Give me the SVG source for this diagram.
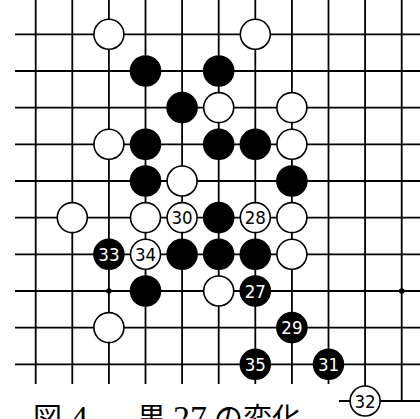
<svg xmlns="http://www.w3.org/2000/svg" width="420" height="419" viewBox="0 0 420 419">
<style>
.g line{stroke:#000;stroke-width:1.8}
.w{fill:#fff;stroke:#000;stroke-width:1.6}
.b{fill:#000;stroke:#000;stroke-width:1.6}
.n{font-family:"DejaVu Sans Condensed","Liberation Sans Narrow","Liberation Sans",sans-serif;font-size:18.5px;text-anchor:middle}
.nw{fill:#000}
.nb{fill:#fff}
.cap{font-family:"Liberation Serif","Noto Sans CJK JP",serif;font-size:29px;fill:#000}
.d{font-size:34px}
</style>
<rect width="420" height="419" fill="#fff"/>
<g id="connectors" class="g">
<line x1="15" y1="34.3" x2="420" y2="34.3"/>
<line x1="15" y1="71" x2="420" y2="71"/>
<line x1="15" y1="107.6" x2="420" y2="107.6"/>
<line x1="15" y1="144.3" x2="420" y2="144.3"/>
<line x1="15" y1="181" x2="420" y2="181"/>
<line x1="15" y1="217.6" x2="420" y2="217.6"/>
<line x1="15" y1="254.3" x2="420" y2="254.3"/>
<line x1="15" y1="291" x2="420" y2="291"/>
<line x1="15" y1="327.6" x2="420" y2="327.6"/>
<line x1="15" y1="364.3" x2="420" y2="364.3"/>
<line x1="339" y1="401" x2="420" y2="401"/>
<line x1="35.7" y1="0" x2="35.7" y2="384"/>
<line x1="72.3" y1="0" x2="72.3" y2="384"/>
<line x1="108.9" y1="0" x2="108.9" y2="384"/>
<line x1="145.5" y1="0" x2="145.5" y2="384"/>
<line x1="182.1" y1="0" x2="182.1" y2="384"/>
<line x1="218.7" y1="0" x2="218.7" y2="384"/>
<line x1="255.3" y1="0" x2="255.3" y2="384"/>
<line x1="291.9" y1="0" x2="291.9" y2="384"/>
<line x1="328.5" y1="0" x2="328.5" y2="384"/>
<line x1="365.1" y1="0" x2="365.1" y2="401"/>
<line x1="401.7" y1="0" x2="401.7" y2="401"/>
</g>
<g id="stars">
<circle cx="108.9" cy="291" r="2.8" fill="#000"/>
<circle cx="401.7" cy="291" r="2.8" fill="#000"/>
</g>
<g id="w-2-0"><circle class="w" cx="108.9" cy="34.3" r="15"/></g>
<g id="w-6-0"><circle class="w" cx="255.3" cy="34.3" r="15"/></g>
<g id="b-3-1"><circle class="b" cx="145.5" cy="71" r="15"/></g>
<g id="b-5-1"><circle class="b" cx="218.7" cy="71" r="15"/></g>
<g id="b-4-2"><circle class="b" cx="182.1" cy="107.6" r="15"/></g>
<g id="w-5-2"><circle class="w" cx="218.7" cy="107.6" r="15"/></g>
<g id="w-7-2"><circle class="w" cx="291.9" cy="107.6" r="15"/></g>
<g id="w-2-3"><circle class="w" cx="108.9" cy="144.3" r="15"/></g>
<g id="b-3-3"><circle class="b" cx="145.5" cy="144.3" r="15"/></g>
<g id="b-5-3"><circle class="b" cx="218.7" cy="144.3" r="15"/></g>
<g id="b-6-3"><circle class="b" cx="255.3" cy="144.3" r="15"/></g>
<g id="w-7-3"><circle class="w" cx="291.9" cy="144.3" r="15"/></g>
<g id="b-3-4"><circle class="b" cx="145.5" cy="181" r="15"/></g>
<g id="w-4-4"><circle class="w" cx="182.1" cy="181" r="15"/></g>
<g id="b-7-4"><circle class="b" cx="291.9" cy="181" r="15"/></g>
<g id="w-1-5"><circle class="w" cx="72.3" cy="217.6" r="15"/></g>
<g id="w-3-5"><circle class="w" cx="145.5" cy="217.6" r="15"/></g>
<g id="w30"><circle class="w" cx="182.1" cy="217.6" r="15"/><text class="n nw" x="182.1" y="224.3">30</text></g>
<g id="b-5-5"><circle class="b" cx="218.7" cy="217.6" r="15"/></g>
<g id="w28"><circle class="w" cx="255.3" cy="217.6" r="15"/><text class="n nw" x="255.3" y="224.3">28</text></g>
<g id="w-7-5"><circle class="w" cx="291.9" cy="217.6" r="15"/></g>
<g id="b33"><circle class="b" cx="108.9" cy="254.3" r="15"/><text class="n nb" x="108.9" y="261">33</text></g>
<g id="w34"><circle class="w" cx="145.5" cy="254.3" r="15"/><text class="n nw" x="145.5" y="261">34</text></g>
<g id="b-4-6"><circle class="b" cx="182.1" cy="254.3" r="15"/></g>
<g id="b-5-6"><circle class="b" cx="218.7" cy="254.3" r="15"/></g>
<g id="b-6-6"><circle class="b" cx="255.3" cy="254.3" r="15"/></g>
<g id="w-7-6"><circle class="w" cx="291.9" cy="254.3" r="15"/></g>
<g id="b-3-7"><circle class="b" cx="145.5" cy="291" r="15"/></g>
<g id="w-5-7"><circle class="w" cx="218.7" cy="291" r="15"/></g>
<g id="b27"><circle class="b" cx="255.3" cy="291" r="15"/><text class="n nb" x="255.3" y="297.7">27</text></g>
<g id="w-2-8"><circle class="w" cx="108.9" cy="327.6" r="15"/></g>
<g id="b29"><circle class="b" cx="291.9" cy="327.6" r="15"/><text class="n nb" x="291.9" y="334.3">29</text></g>
<g id="b35"><circle class="b" cx="255.3" cy="364.3" r="15"/><text class="n nb" x="255.3" y="371">35</text></g>
<g id="b31"><circle class="b" cx="328.5" cy="364.3" r="15"/><text class="n nb" x="328.5" y="371">31</text></g>
<g id="w32"><circle class="w" cx="365.1" cy="401" r="15"/><text class="n nw" x="365.1" y="407.7">32</text></g>
<g id="caption"><text class="cap" y="429"><tspan x="33">図</tspan><tspan class="d" x="71">4</tspan><tspan x="137">黒</tspan><tspan class="d" x="173">27</tspan><tspan x="214">の変化</tspan></text></g>
</svg>
